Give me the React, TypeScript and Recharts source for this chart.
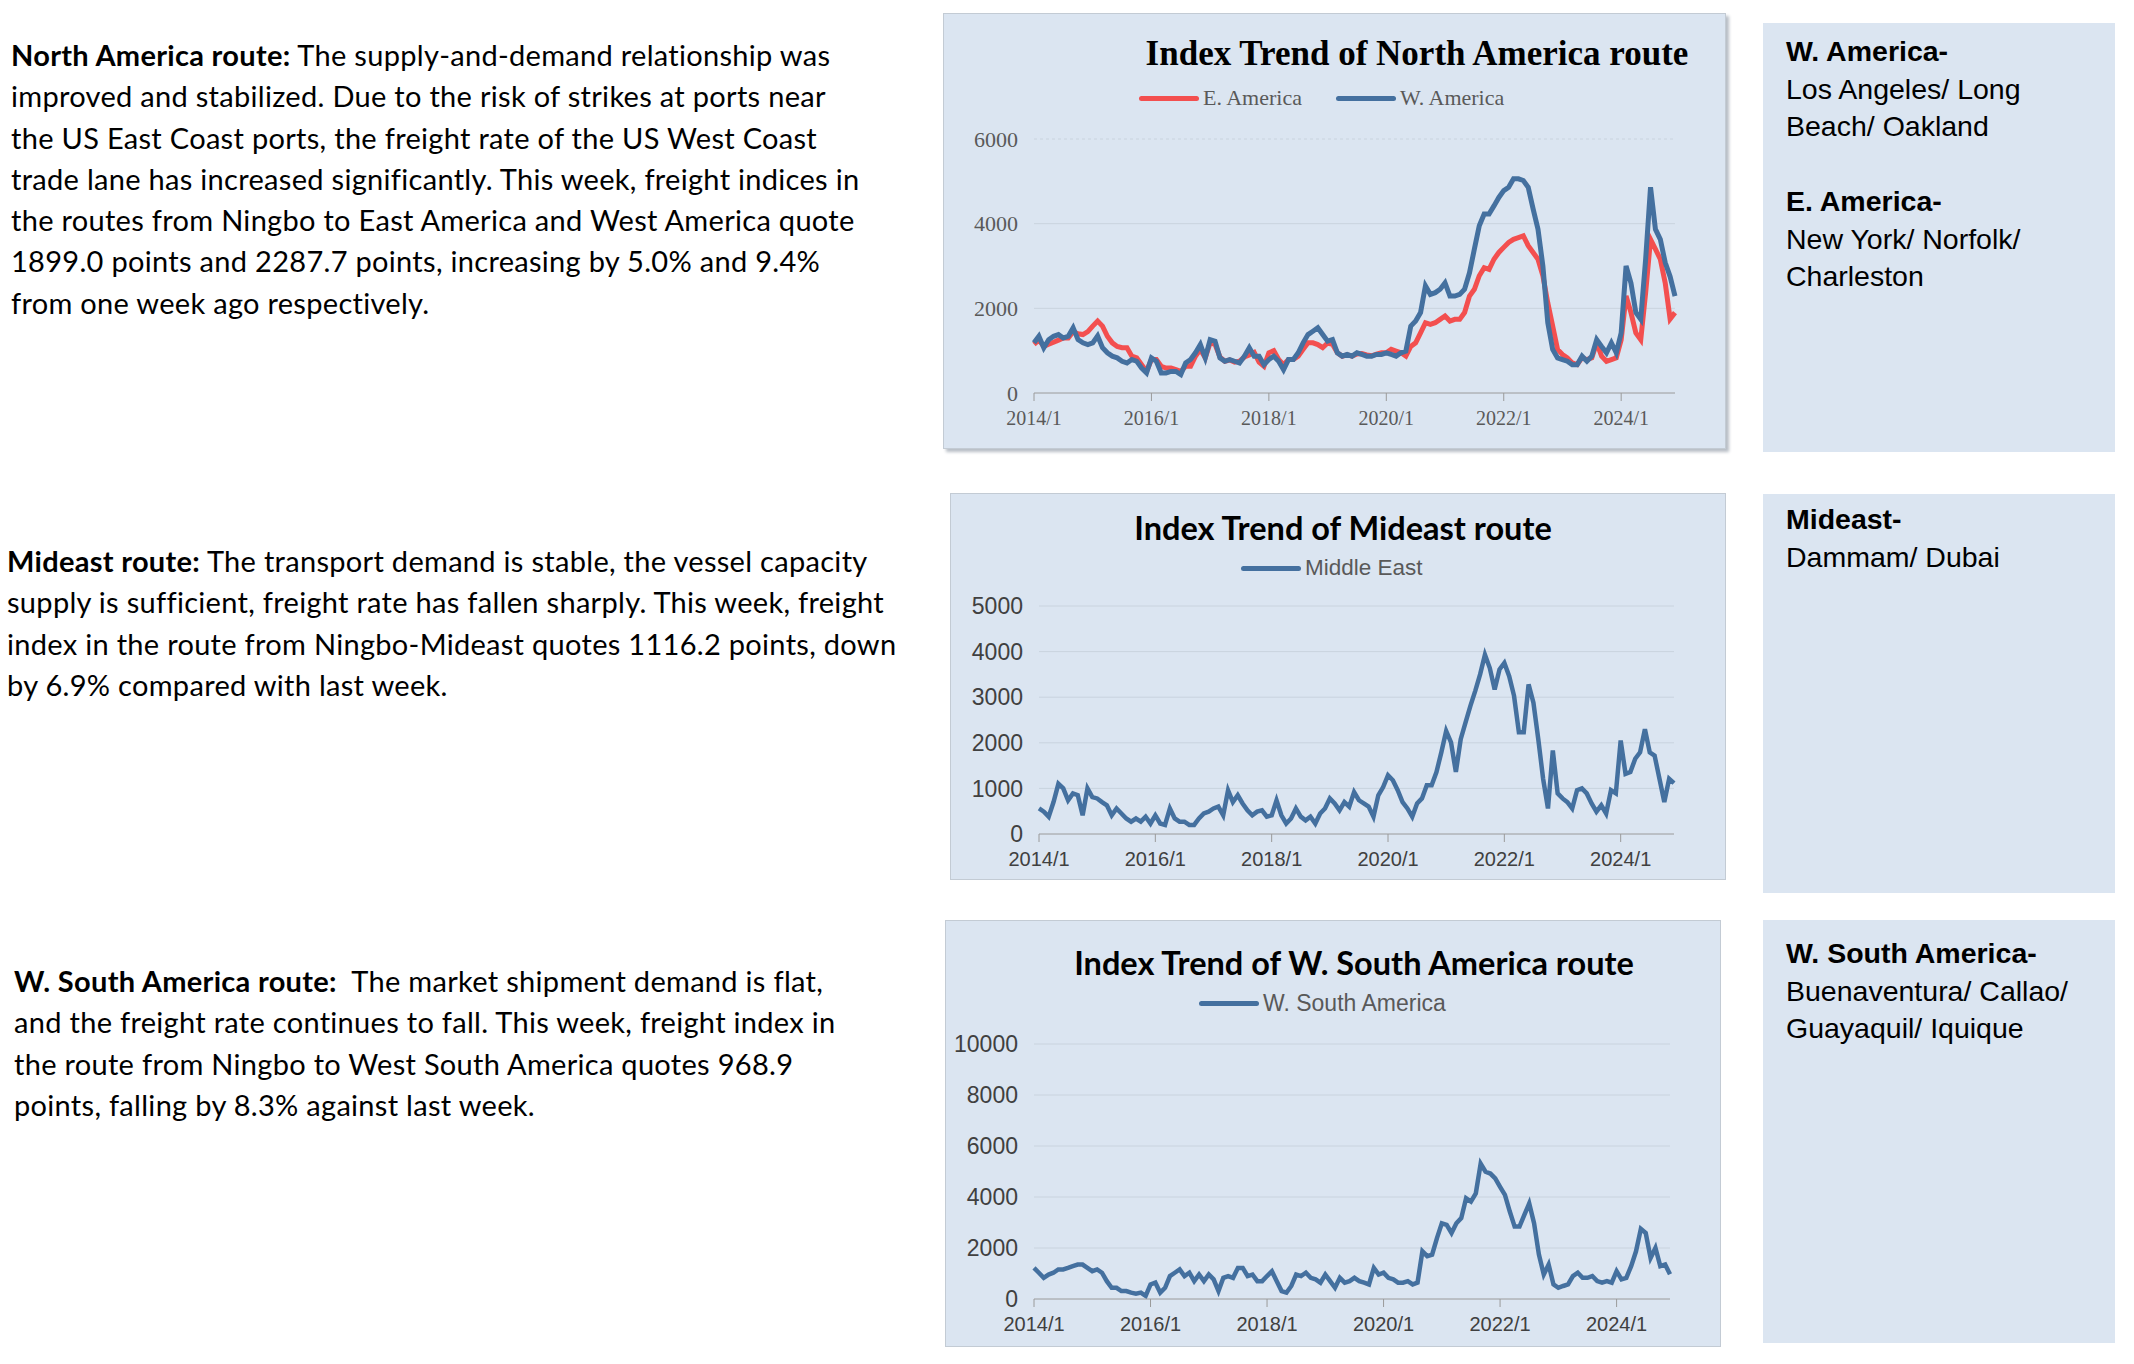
import React from 'react';
import { LineChart, Line, XAxis, YAxis, CartesianGrid, ReferenceLine } from 'recharts';

// monthly index values, 2014/1 .. 2024/12
const YEARS = [2014, 2015, 2016, 2017, 2018, 2019, 2020, 2021, 2022, 2023, 2024];
const MONTHS = [1, 2, 3, 4, 5, 6, 7, 8, 9, 10, 11, 12];
const PERIODS = YEARS.flatMap((y) => MONTHS.map((m) => `${y}/${m}`));
const YEAR_TICKS = ['2014/1', '2016/1', '2018/1', '2020/1', '2022/1', '2024/1'];

const E_AMERICA = [
  1150, 1250, 1100, 1150, 1200, 1250, 1300, 1300, 1450, 1400, 1380, 1450,
  1580, 1700, 1580, 1340, 1185, 1100, 1070, 1070, 870, 830, 670, 510,
  790, 790, 630, 590, 590, 550, 510, 630, 630, 870, 1030, 830,
  1185, 1150, 850, 750, 780, 730, 750, 850, 900, 960, 730, 630,
  950, 1000, 790, 670, 790, 790, 870, 1030, 1185, 1185, 1145, 1070,
  1180, 1150, 950, 870, 900, 870, 920, 930, 900, 880, 920, 950,
  950, 1030, 990, 950, 870, 1100, 1185, 1420, 1660, 1620, 1660, 1740,
  1820, 1700, 1740, 1740, 1900, 2290, 2450, 2770, 2960, 2920, 3160, 3320,
  3440, 3555, 3630, 3670, 3710, 3480, 3320, 3160, 2770, 2130, 1580, 1030,
  910, 830, 710, 670, 830, 790, 830, 1185, 870, 750, 790, 830,
  1260, 2290, 1900, 1420, 1260, 2370, 3630, 3400, 3160, 2600, 1750, 1899,
];

const W_AMERICA = [
  1185, 1340, 1070, 1260, 1340, 1380, 1300, 1340, 1540, 1260, 1185, 1145,
  1185, 1350, 1070, 950, 870, 830, 750, 710, 790, 750, 590, 475,
  830, 750, 475, 475, 510, 510, 435, 710, 790, 950, 1145, 830,
  1260, 1225, 830, 750, 790, 750, 710, 870, 1070, 870, 870, 670,
  790, 870, 750, 550, 790, 790, 950, 1185, 1380, 1460, 1540, 1380,
  1225, 1260, 950, 870, 910, 870, 950, 910, 870, 870, 910, 910,
  950, 910, 870, 950, 990, 1580, 1700, 1900, 2530, 2330, 2370, 2450,
  2600, 2290, 2290, 2330, 2450, 2840, 3400, 3950, 4230, 4230, 4420, 4620,
  4780, 4860, 5060, 5060, 5020, 4860, 4350, 3870, 3000, 1660, 1030, 830,
  790, 750, 670, 670, 870, 750, 870, 1260, 1100, 950, 1185, 950,
  1420, 3000, 2600, 1900, 1740, 3160, 4860, 3870, 3630, 3080, 2750, 2288,
];

const MIDDLE_EAST = [
  560, 490, 380, 700, 1100, 1000, 740, 890, 850, 410, 1000, 810,
  780, 700, 630, 410, 560, 450, 340, 270, 340, 270, 380, 230,
  410, 230, 200, 560, 340, 270, 270, 200, 200, 340, 450, 490,
  560, 600, 410, 960, 700, 850, 670, 520, 410, 490, 520, 380,
  410, 740, 410, 230, 340, 560, 380, 300, 380, 230, 450, 560,
  780, 670, 520, 700, 600, 920, 740, 670, 600, 380, 850, 1030,
  1290, 1180, 960, 700, 560, 380, 670, 780, 1070, 1070, 1360, 1790,
  2260, 2010, 1360, 2080, 2450, 2810, 3140, 3500, 3930, 3640, 3170, 3610,
  3750, 3460, 3030, 2230, 2230, 3280, 2880, 2080, 1210, 560, 1830, 890,
  780, 700, 560, 960, 1000, 890, 670, 490, 630, 450, 960, 890,
  2050, 1320, 1360, 1650, 1790, 2300, 1790, 1720, 1210, 700, 1210, 1116,
];

const W_SOUTH_AMERICA = [
  1220, 1030, 830, 960, 1030, 1160, 1160, 1220, 1290, 1350, 1350, 1220,
  1090, 1160, 1030, 700, 440, 440, 310, 310, 250, 210, 250, 120,
  570, 640, 250, 440, 900, 1030, 1160, 900, 1030, 700, 960, 700,
  960, 770, 310, 830, 900, 830, 1220, 1220, 900, 960, 700, 700,
  900, 1090, 700, 310, 250, 510, 960, 900, 1030, 830, 770, 640,
  960, 700, 440, 830, 640, 700, 830, 700, 640, 570, 1220, 960,
  1030, 830, 770, 640, 640, 700, 570, 640, 1870, 1680, 1740, 2390,
  2970, 2910, 2590, 2970, 3170, 3950, 3820, 4140, 5310, 4990, 4920, 4730,
  4400, 4080, 3430, 2840, 2840, 3300, 3750, 2970, 1740, 960, 1350, 570,
  440, 510, 570, 900, 1030, 830, 830, 900, 700, 640, 700, 640,
  1090, 770, 830, 1290, 1870, 2750, 2590, 1610, 2000, 1290, 1350, 969,
];

const RED = '#f34f4f';
const BLUE = '#44709f';
const PANEL_BG = '#dbe5f1';

const naData = PERIODS.map((p, i) => ({ period: p, east: E_AMERICA[i], west: W_AMERICA[i] }));
const meData = PERIODS.map((p, i) => ({ period: p, me: MIDDLE_EAST[i] }));
const wsaData = PERIODS.map((p, i) => ({ period: p, wsa: W_SOUTH_AMERICA[i] }));

const bodyFont = 'Lato, "Open Sans", sans-serif';
const arial = '"Liberation Sans", Arial, sans-serif';
const serif = '"Liberation Serif", "Times New Roman", serif';

const abs = (left: number, top: number, extra: React.CSSProperties = {}): React.CSSProperties => ({
  position: 'absolute',
  left,
  top,
  ...extra,
});

const Paragraph = ({ left, top, lines }: { left: number; top: number; lines: React.ReactNode[] }) => (
  <div style={abs(left, top, { fontFamily: bodyFont, fontSize: 29, letterSpacing: 0.3, lineHeight: '41.3px', color: '#000' })}>
    {lines.map((l, i) => (
      <div key={i} style={{ whiteSpace: 'nowrap' }}>{l}</div>
    ))}
  </div>
);

const SideBox = ({ top, height, textTop, lines }: { top: number; height: number; textTop: number; lines: [string, boolean][] }) => (
  <div style={abs(1763, top, { width: 352, height, background: PANEL_BG })}>
    <div style={abs(23, textTop - top, { fontFamily: arial, fontSize: 28.5, lineHeight: '37.5px', color: '#000' })}>
      {lines.map(([t, b], i) => (
        <div key={i} style={{ whiteSpace: 'nowrap', fontWeight: b ? 700 : 400, height: 37.5 }}>{t}</div>
      ))}
    </div>
  </div>
);

const LegendItem = ({ color, label, font, size }: { color: string; label: string; font: string; size: number }) => (
  <span style={{ display: 'inline-flex', alignItems: 'center', marginRight: 34 }}>
    <span style={{ display: 'inline-block', width: 60, height: 5, borderRadius: 3, background: color, marginRight: 4 }} />
    <span style={{ fontFamily: font, fontSize: size, color: '#595959', whiteSpace: 'nowrap' }}>{label}</span>
  </span>
);

export default function App() {
  return (
    <div style={{ position: 'absolute', left: 0, top: 0, width: 2134, height: 1364, background: '#fff', overflow: 'hidden' }}>
      <Paragraph
        left={11}
        top={34}
        lines={[
          <><b>North America route:</b> The supply-and-demand relationship was</>,
          'improved and stabilized. Due to the risk of strikes at ports near',
          'the US East Coast ports, the freight rate of the US West Coast',
          'trade lane has increased significantly. This week, freight indices in',
          'the routes from Ningbo to East America and West America quote',
          '1899.0 points and 2287.7 points, increasing by 5.0% and 9.4%',
          'from one week ago respectively.',
        ]}
      />
      <Paragraph
        left={7}
        top={540}
        lines={[
          <><b>Mideast route:</b> The transport demand is stable, the vessel capacity</>,
          'supply is sufficient, freight rate has fallen sharply. This week, freight',
          'index in the route from Ningbo-Mideast quotes 1116.2 points, down',
          'by 6.9% compared with last week.',
        ]}
      />
      <Paragraph
        left={14}
        top={960}
        lines={[
          <><b>W. South America route:</b>&nbsp; The market shipment demand is flat,</>,
          'and the freight rate continues to fall. This week, freight index in',
          'the route from Ningbo to West South America quotes 968.9',
          'points, falling by 8.3% against last week.',
        ]}
      />

      {/* North America panel */}
      <div style={abs(943, 13, { width: 783, height: 436, background: PANEL_BG, border: '1px solid #c3cbd4', boxShadow: '3px 3px 3px #b8bec6', boxSizing: 'border-box' })}>
        <div style={abs(0, 20, { width: 946, textAlign: 'center', fontFamily: serif, fontWeight: 700, fontSize: 35, color: '#000', whiteSpace: 'nowrap' })}>
          Index Trend of North America route
        </div>
        <div style={abs(195, 71, { display: 'flex' })}>
          <LegendItem color={RED} label="E. America" font={serif} size={22} />
          <LegendItem color={BLUE} label="W. America" font={serif} size={22} />
        </div>
        <LineChart width={782} height={435} data={naData} margin={{ top: 125, right: 51, left: 20, bottom: 26 }}>
          <CartesianGrid horizontal vertical={false} horizontalValues={[2000, 4000]} stroke="#c9d3de" />
          <ReferenceLine y={6000} stroke="#c9d3de" strokeDasharray="3 3" />
          <XAxis
            dataKey="period"
            ticks={YEAR_TICKS}
            interval={0}
            height={30}
            tickSize={8}
            tickMargin={10}
            stroke="#9a9a9a"
            tick={{ fill: '#595959', fontFamily: serif, fontSize: 20 }}
          />
          <YAxis
            width={70}
            domain={[0, 6000]}
            ticks={[0, 2000, 4000, 6000]}
            axisLine={false}
            tickLine={false}
            tickSize={0}
            tickMargin={16}
            tick={{ fill: '#595959', fontFamily: serif, fontSize: 22 }}
          />
          <Line dataKey="east" stroke={RED} strokeWidth={5} dot={false} isAnimationActive={false} />
          <Line dataKey="west" stroke={BLUE} strokeWidth={5} dot={false} isAnimationActive={false} />
        </LineChart>
      </div>
      <SideBox
        top={23}
        height={429}
        textTop={33}
        lines={[
          ['W. America-', true],
          ['Los Angeles/ Long', false],
          ['Beach/ Oakland', false],
          ['', false],
          ['E. America-', true],
          ['New York/ Norfolk/', false],
          ['Charleston', false],
        ]}
      />

      {/* Mideast panel */}
      <div style={abs(950, 493, { width: 776, height: 387, background: PANEL_BG, border: '1px solid #c3cbd4', boxSizing: 'border-box' })}>
        <div style={abs(0, 14, { width: 784, textAlign: 'center', fontFamily: bodyFont, fontWeight: 700, fontSize: 32.5, color: '#000', whiteSpace: 'nowrap' })}>
          Index Trend of Mideast route
        </div>
        <div style={abs(290, 61, { display: 'flex' })}>
          <LegendItem color={BLUE} label="Middle East" font={arial} size={22.5} />
        </div>
        <LineChart width={775} height={386} data={meData} margin={{ top: 112, right: 52, left: 18, bottom: 16 }}>
          <CartesianGrid horizontal vertical={false} horizontalValues={[1000, 2000, 3000, 4000, 5000]} stroke="#c9d3de" />
          <XAxis
            dataKey="period"
            ticks={YEAR_TICKS}
            interval={0}
            height={30}
            tickSize={8}
            tickMargin={10}
            stroke="#9a9a9a"
            tick={{ fill: '#404040', fontFamily: arial, fontSize: 20 }}
          />
          <YAxis
            width={70}
            domain={[0, 5000]}
            ticks={[0, 1000, 2000, 3000, 4000, 5000]}
            axisLine={false}
            tickLine={false}
            tickSize={0}
            tickMargin={16}
            tick={{ fill: '#404040', fontFamily: arial, fontSize: 23 }}
          />
          <Line dataKey="me" stroke={BLUE} strokeWidth={4.5} dot={false} isAnimationActive={false} />
        </LineChart>
      </div>
      <SideBox top={494} height={399} textTop={501} lines={[['Mideast-', true], ['Dammam/ Dubai', false]]} />

      {/* W. South America panel */}
      <div style={abs(945, 920, { width: 776, height: 427, background: PANEL_BG, border: '1px solid #c3cbd4', boxSizing: 'border-box' })}>
        <div style={abs(0, 22, { width: 816, textAlign: 'center', fontFamily: bodyFont, fontWeight: 700, fontSize: 32.5, color: '#000', whiteSpace: 'nowrap' })}>
          Index Trend of W. South America route
        </div>
        <div style={abs(253, 69, { display: 'flex' })}>
          <LegendItem color={BLUE} label="W. South America" font={arial} size={23} />
        </div>
        <LineChart width={775} height={426} data={wsaData} margin={{ top: 123, right: 51, left: 18, bottom: 18 }}>
          <CartesianGrid horizontal vertical={false} horizontalValues={[2000, 4000, 6000, 8000, 10000]} stroke="#c9d3de" />
          <XAxis
            dataKey="period"
            ticks={YEAR_TICKS}
            interval={0}
            height={30}
            tickSize={8}
            tickMargin={10}
            stroke="#9a9a9a"
            tick={{ fill: '#404040', fontFamily: arial, fontSize: 20 }}
          />
          <YAxis
            width={70}
            domain={[0, 10000]}
            ticks={[0, 2000, 4000, 6000, 8000, 10000]}
            axisLine={false}
            tickLine={false}
            tickSize={0}
            tickMargin={16}
            tick={{ fill: '#404040', fontFamily: arial, fontSize: 23 }}
          />
          <Line dataKey="wsa" stroke={BLUE} strokeWidth={4.5} dot={false} isAnimationActive={false} />
        </LineChart>
      </div>
      <SideBox
        top={920}
        height={423}
        textTop={935}
        lines={[['W. South America-', true], ['Buenaventura/ Callao/', false], ['Guayaquil/ Iquique', false]]}
      />
    </div>
  );
}
